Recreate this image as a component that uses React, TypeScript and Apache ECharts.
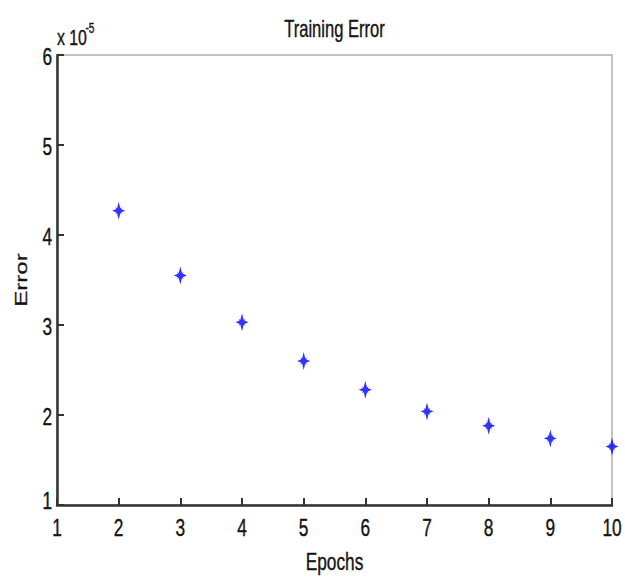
import React, { useEffect, useRef } from "react";
import * as echarts from "echarts";

const epochs = [2, 3, 4, 5, 6, 7, 8, 9, 10];
const errorValues = [4.27, 3.55, 3.03, 2.6, 2.28, 2.04, 1.88, 1.74, 1.65];
const xTicks = [1, 2, 3, 4, 5, 6, 7, 8, 9, 10];
const yTicks = [1, 2, 3, 4, 5, 6];
const title = "Training Error";
const xName = "Epochs";
const yName = "Error";
const exponentBase = "x 10";
const exponent = "-5";

const FONT = "'Liberation Sans', Arial, Helvetica, sans-serif";
const FS = 24;
const SQUEEZE = 0.72;
const TEXT_COLOR = "#141414";
const STAR =
  "path://M0,-8 L1.5,-2.2 L3,-3 L2.2,-1.5 L6,0 L2.2,1.5 L3,3 L1.5,2.2 L0,8 L-1.5,2.2 L-3,3 L-2.2,1.5 L-6,0 L-2.2,-1.5 L-3,-3 L-1.5,-2.2 Z";

function txt(text: string, x: number, y: number, align: string, fontSize: number = FS) {
  return {
    type: "text",
    x,
    y,
    scaleX: SQUEEZE,
    silent: true,
    style: {
      text,
      fontFamily: FONT,
      fontSize,
      fill: TEXT_COLOR,
      stroke: TEXT_COLOR,
      lineWidth: 0.4,
      align,
      verticalAlign: "middle",
    },
  };
}

export default function App() {
  const ref = useRef<HTMLDivElement>(null);
  useEffect(() => {
    if (!ref.current) return;
    const chart = echarts.init(ref.current, undefined, { renderer: "svg" });
    chart.setOption({
      animation: false,
      backgroundColor: "#ffffff",
      grid: {
        left: 57,
        top: 55,
        width: 555,
        height: 450,
        show: true,
        borderColor: "#b0b0b0",
        borderWidth: 1.5,
        backgroundColor: "transparent",
      },
      xAxis: {
        type: "value",
        min: xTicks[0],
        max: xTicks[xTicks.length - 1],
        interval: 1,
        axisLine: { show: true, lineStyle: { color: "#333", width: 2.5 } },
        axisTick: { show: true, inside: true, length: 7, lineStyle: { color: "#333", width: 2 } },
        axisLabel: { show: false },
        splitLine: { show: false },
      },
      yAxis: {
        type: "value",
        min: yTicks[0],
        max: yTicks[yTicks.length - 1],
        interval: 1,
        axisLine: { show: true, lineStyle: { color: "#333", width: 2.5 } },
        axisTick: { show: true, inside: true, length: 7, lineStyle: { color: "#333", width: 2 } },
        axisLabel: { show: false },
        splitLine: { show: false },
      },
      series: [
        {
          type: "scatter",
          clip: false,
          symbol: STAR,
          symbolSize: [13, 18],
          itemStyle: { color: "#0000ff" },
          data: epochs.map((e, i) => [e, errorValues[i]]),
        },
      ],
    });

    const yMin = yTicks[0];
    const xMin = xTicks[0];
    const graphics: any[] = [];
    xTicks.forEach((t) => {
      const p = chart.convertToPixel({ gridIndex: 0 }, [t, yMin]) as number[];
      graphics.push(txt(String(t), p[0], p[1] + 22, "center"));
    });
    yTicks.forEach((t, i) => {
      const p = chart.convertToPixel({ gridIndex: 0 }, [xMin, t]) as number[];
      graphics.push(txt(String(t), p[0] - 5, p[1] + (i === 0 ? -5 : 1), "right"));
    });
    const left = chart.convertToPixel({ gridIndex: 0 }, [xTicks[0], yMin]) as number[];
    const right = chart.convertToPixel({ gridIndex: 0 }, [xTicks[xTicks.length - 1], yTicks[yTicks.length - 1]]) as number[];
    const cx = (left[0] + right[0]) / 2;
    const cy = (left[1] + right[1]) / 2;
    graphics.push(txt(title, cx, 29, "center", 23));
    graphics.push(txt(xName, cx, left[1] + 56, "center"));
    graphics.push({
      type: "text",
      x: 21,
      y: cy,
      rotation: Math.PI / 2,
      scaleY: SQUEEZE,
      silent: true,
      style: {
        text: yName,
        fontFamily: FONT,
        fontSize: FS,
        fill: TEXT_COLOR,
        stroke: TEXT_COLOR,
        lineWidth: 0.4,
        align: "center",
        verticalAlign: "middle",
      },
    });
    graphics.push(txt(exponentBase, left[0], 38, "left", 22));
    graphics.push(txt(exponent, left[0] + 33, 28, "center", 14));
    chart.setOption({ graphic: graphics });
    return () => chart.dispose();
  }, []);
  return <div ref={ref} style={{ position: "fixed", left: 0, top: 0, width: 625, height: 578 }} />;
}
